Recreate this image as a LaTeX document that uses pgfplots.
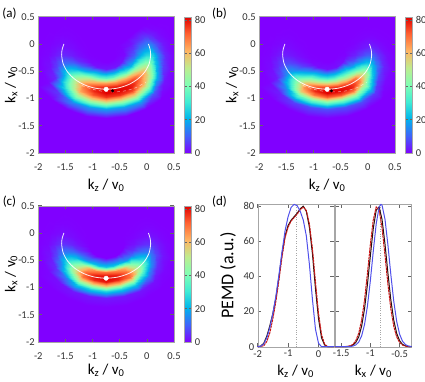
\documentclass[border=0pt]{standalone}
\usepackage{fontspec}
\setmainfont{Carlito}
\usepackage{pgfplots}
\pgfplotsset{compat=1.18}
\usepackage{pgfplotstable}

\definecolor{cmzero}{RGB}{128,0,255}
\definecolor{lblue}{RGB}{80,80,235}
\definecolor{lred}{RGB}{200,20,20}
\definecolor{lblack}{RGB}{40,15,15}

\pgfplotsset{
  colormap={gprain}{rgb255(0cm)=(128,0,255); rgb255(1cm)=(64,98,250); rgb255(2cm)=(0,180,236); rgb255(3cm)=(64,236,212); rgb255(4cm)=(128,255,180); rgb255(5cm)=(191,236,142); rgb255(6cm)=(255,180,98); rgb255(7cm)=(255,98,50); rgb255(8cm)=(225,0,0)},
  base/.style={scale only axis, tick align=inside,
    axis line style={black!35},
    every tick/.style={black!60, semithick}, major tick length=3.5pt,
    ticklabel style={font=\fontsize{10.5}{11}\selectfont, text=black!80},
    /pgf/number format/assume math mode=true,
    label style={font=\fontsize{15}{16}\selectfont},
  },
  hm/.style={base, width=135.7pt, height=136.3pt,
    xmin=-2, xmax=0.5, ymin=-2, ymax=0.5,
    xtick={-2,-1.5,...,0.5}, ytick={-2,-1.5,...,0.5},
    xticklabel shift=7pt,
    xlabel={k\textsubscript{z} / v\textsubscript{0}},
    ylabel={k\textsubscript{x} / v\textsubscript{0}},
    xlabel style={at={(axis description cs:0.5,-0.235)}, anchor=center},
    ylabel style={at={(axis description cs:-0.2,0.5)}, anchor=center},
    colormap name=gprain, point meta min=0, point meta max=82,
    colorbar,
    colorbar style={at={(parent axis.south east)}, anchor=south west, xshift=2pt,
      width=6.7pt, ytick={0,20,...,80}, tick align=inside,
      axis line style={black!35}, every tick/.style={black!60, semithick}, major tick length=2.5pt,
      yticklabel style={font=\fontsize{10.5}{11}\selectfont, text=black!80},
      /pgf/number format/assume math mode=true},
    axis background/.style={fill=cmzero},
    axis on top,
  },
  pe/.style={base, width=76pt, height=142.7pt, ymin=0, ymax=81.2, clip=false,
    ytick={0,20,...,80},
    xlabel style={at={(axis description cs:0.5,-0.175)}, anchor=center},
  },
  crv/.style={line width=1pt, line join=round, line cap=round},
}

\pgfplotstableread{
kz kx va vb vc
-0.863 -0.110 0 0 0
-0.889 -0.136 0 0 0
-0.905 -0.167 0 0 0
-0.910 -0.200 0 0 0
-0.905 -0.233 0 0 0
-0.889 -0.264 0 0 0
-0.863 -0.290 0 0 0
-0.830 -0.311 0 0 0
-0.791 -0.324 0 0 0
-0.750 -0.328 0 0 0
-0.709 -0.324 0 0 0
-0.670 -0.311 0 0 0
-0.637 -0.290 0 0 0
-0.611 -0.264 0 0 0
-0.595 -0.233 0 0 0
-0.590 -0.200 0 0 0
-0.595 -0.167 0 0 0
-0.611 -0.136 0 0 0
-0.637 -0.110 0 0 0
-0.976 -0.019 0 0 0
-1.027 -0.072 0 0 0
-1.059 -0.134 0.05 0 0
-1.070 -0.200 0.1 0.1 0
-1.059 -0.266 0.4 0.2 0
-1.027 -0.328 0.8 0.5 0
-0.976 -0.381 1.5 1.2 0
-0.910 -0.422 2.0 1.3 0
-0.833 -0.447 2.3 1.6 0
-0.750 -0.456 2.5 1.6 0
-0.667 -0.447 2.5 1.6 0
-0.590 -0.422 2.4 1.6 0
-0.524 -0.381 2.2 2.1 0
-0.473 -0.328 1.9 1.4 0
-0.441 -0.266 1.4 0.8 0
-0.430 -0.200 0.8 0.3 0
-0.441 -0.134 0.5 0.1 0
-0.473 -0.072 0.2 0 0
-0.524 -0.019 0 0 0
-1.118 0.094 0 0 0
-1.200 0.008 0.1 0.1 0.1
-1.252 -0.092 0.5 0.4 0.5
-1.270 -0.200 1.4 1.1 1.8
-1.252 -0.308 4.2 2.8 4.9
-1.200 -0.408 9.8 6.3 10.5
-1.118 -0.494 20.0 16.0 15.6
-1.010 -0.560 29.2 24.4 21.6
-0.885 -0.602 33.5 28.9 24.0
-0.750 -0.616 35.3 30.3 24.6
-0.615 -0.602 35.3 30.3 24.0
-0.490 -0.560 34.4 29.2 21.6
-0.382 -0.494 29.6 28.0 15.6
-0.300 -0.408 21.7 16.8 10.5
-0.248 -0.308 15.8 8.8 4.9
-0.230 -0.200 9.8 3.5 1.8
-0.248 -0.092 5.6 1.1 0.5
-0.300 0.008 2.1 0.2 0.1
-0.382 0.094 0 0 0
-1.203 0.162 0 0 0
-1.304 0.056 0.2 0.1 0.2
-1.368 -0.068 1.1 0.7 1.1
-1.390 -0.200 3.0 2.1 3.8
-1.368 -0.333 9.0 5.6 10.5
-1.304 -0.456 21.0 12.6 22.5
-1.203 -0.562 40.0 28.0 41.6
-1.070 -0.643 53.0 44.2 61.2
-0.916 -0.695 60.8 52.3 68.0
-0.750 -0.712 64.0 54.9 69.7
-0.584 -0.695 64.0 54.9 68.0
-0.430 -0.643 62.4 52.9 61.2
-0.297 -0.562 59.2 49.0 41.6
-0.196 -0.456 46.5 33.6 22.5
-0.132 -0.333 33.8 17.5 10.5
-0.110 -0.200 21.0 7.0 3.8
-0.132 -0.068 12.0 2.1 1.1
-0.196 0.056 4.5 0.4 0.2
-0.297 0.162 0 0 0
-1.270 0.216 0 0 0
-1.387 0.094 0.3 0.2 0.3
-1.461 -0.048 1.4 1.0 1.4
-1.486 -0.200 3.8 2.9 4.8
-1.461 -0.352 11.4 7.6 13.3
-1.387 -0.494 26.6 17.1 28.5
-1.270 -0.616 48.5 38.8 50.4
-1.118 -0.710 64.6 60.1 70.6
-0.941 -0.769 74.1 71.0 78.4
-0.750 -0.789 77.9 74.6 80.4
-0.559 -0.769 77.9 74.6 78.4
-0.382 -0.710 76.0 71.9 70.6
-0.230 -0.616 71.8 67.9 50.4
-0.113 -0.494 58.9 45.6 28.5
-0.039 -0.352 42.8 23.8 13.3
-0.014 -0.200 26.6 9.5 4.8
-0.039 -0.048 15.2 2.9 1.4
-0.113 0.094 5.7 0.5 0.3
-0.230 0.216 0 0 0
-1.316 0.253 0 0 0
-1.443 0.120 0.3 0.2 0.3
-1.523 -0.034 1.5 1.0 1.5
-1.550 -0.200 4.0 3.0 5.0
-1.523 -0.366 12.0 8.0 14.0
-1.443 -0.520 28.0 18.0 30.0
-1.316 -0.653 50.0 40.0 52.0
-1.150 -0.754 68.0 65.3 72.0
-0.957 -0.818 78.0 77.2 80.0
-0.750 -0.840 82.0 81.2 82.0
-0.543 -0.818 82.0 81.2 80.0
-0.350 -0.754 80.0 78.2 72.0
-0.184 -0.653 74.0 70.0 52.0
-0.057 -0.520 62.0 48.0 30.0
0.023 -0.366 45.0 25.0 14.0
0.050 -0.200 28.0 10.0 5.0
0.023 -0.034 16.0 3.0 1.5
-0.057 0.120 6.0 0.5 0.3
-0.184 0.253 0 0 0
-1.361 0.289 0 0 0
-1.498 0.146 0.3 0.2 0.3
-1.585 -0.021 1.4 0.9 1.4
-1.614 -0.200 3.6 2.7 4.5
-1.585 -0.379 10.8 7.2 12.6
-1.498 -0.546 25.2 16.2 27.0
-1.361 -0.689 47.5 38.0 48.4
-1.182 -0.799 68.0 66.0 69.8
-0.974 -0.868 78.0 78.0 77.6
-0.750 -0.891 82.0 82.0 79.5
-0.526 -0.868 82.0 82.0 77.6
-0.318 -0.799 80.0 79.0 69.8
-0.139 -0.689 70.3 66.5 48.4
-0.002 -0.546 55.8 43.2 27.0
0.085 -0.379 40.5 22.5 12.6
0.114 -0.200 25.2 9.0 4.5
0.085 -0.021 14.4 2.7 1.4
-0.002 0.146 5.4 0.5 0.3
-0.139 0.289 0 0 0
-1.429 0.343 0 0 0
-1.581 0.184 0.2 0.1 0.2
-1.677 -0.001 0.8 0.5 0.8
-1.710 -0.200 2.0 1.5 2.5
-1.677 -0.399 6.0 4.0 7.0
-1.581 -0.584 14.0 9.0 15.0
-1.429 -0.743 40.0 28.8 32.2
-1.230 -0.865 63.2 58.1 52.6
-0.999 -0.942 72.5 68.6 58.4
-0.750 -0.968 76.3 72.2 59.9
-0.502 -0.942 76.3 72.2 58.4
-0.270 -0.865 74.4 69.5 52.6
-0.071 -0.743 63.0 50.4 32.2
0.081 -0.584 45.0 24.0 15.0
0.177 -0.399 22.5 12.5 7.0
0.210 -0.200 14.0 5.0 2.5
0.177 -0.001 8.0 1.5 0.8
0.081 0.184 3.0 0.3 0.2
-0.071 0.343 0 0 0
-1.514 0.411 0 0 0
-1.685 0.232 0 0 0
-1.793 0.024 0.2 0.1 0.2
-1.830 -0.200 0.6 0.4 0.7
-1.793 -0.424 1.7 1.1 2.0
-1.685 -0.632 3.9 2.5 4.2
-1.514 -0.811 27.5 16.0 13.0
-1.290 -0.948 44.9 33.7 23.8
-1.030 -1.035 51.5 39.8 26.4
-0.750 -1.064 54.1 41.8 27.1
-0.470 -1.035 54.1 41.8 26.4
-0.210 -0.948 52.8 40.3 23.8
0.014 -0.811 40.7 28.0 13.0
0.185 -0.632 18.6 6.7 4.2
0.293 -0.424 6.3 3.5 2.0
0.330 -0.200 3.9 1.4 0.7
0.293 0.024 2.2 0.4 0.2
0.185 0.232 0.8 0.1 0
0.014 0.411 0 0 0
-1.627 0.500 0 0 0
-1.824 0.296 0 0 0
-1.948 0.057 0 0 0
-1.990 -0.200 0.1 0.1 0.1
-1.948 -0.457 0.2 0.2 0.3
-1.824 -0.696 0.6 0.4 0.6
-1.627 -0.901 6.0 3.2 1.5
-1.370 -1.059 15.0 6.6 2.2
-1.071 -1.158 17.2 7.8 2.4
-0.750 -1.192 18.0 8.2 2.5
-0.429 -1.158 18.0 8.2 2.4
-0.130 -1.059 17.6 7.9 2.2
0.127 -0.901 8.9 5.6 1.5
0.324 -0.696 2.0 1.0 0.6
0.448 -0.457 0.9 0.5 0.3
0.490 -0.200 0.6 0.2 0.1
0.448 0.057 0.3 0.1 0
0.324 0.296 0.1 0 0
0.127 0.500 0 0 0
-1.768 0.500 0 0 0
-1.997 0.376 0 0 0
-2.000 0.098 0 0 0
-2.000 -0.200 0 0 0
-2.000 -0.498 0 0 0
-1.997 -0.776 0 0 0
-1.768 -1.015 0 0 0
-1.470 -1.198 0 0 0
-1.123 -1.313 0 0 0
-0.750 -1.352 0 0 0
-0.377 -1.313 0 0 0
-0.030 -1.198 0 0 0
0.268 -1.015 0 0 0
0.497 -0.776 0 0 0
0.500 -0.498 0 0 0
0.500 -0.200 0 0 0
0.500 0.098 0 0 0
0.497 0.376 0 0 0
0.268 0.500 0 0 0
}\hmdata

\pgfplotstableread{
kz kx
-1.528 0.000
-1.558 -0.090
-1.570 -0.200
-1.542 -0.363
-1.460 -0.515
-1.330 -0.645
-1.160 -0.746
-0.962 -0.809
-0.750 -0.830
-0.538 -0.809
-0.340 -0.746
-0.170 -0.645
-0.040 -0.515
0.042 -0.363
0.070 -0.200
0.058 -0.090
0.028 0.000
}\arcdata

\pgfplotstableread{
kz kx
-1.20 -0.76
-1.00 -0.83
-0.80 -0.87
-0.60 -0.88
-0.40 -0.86
-0.20 -0.80
-0.02 -0.70
}\dashdata

\begin{document}
\begin{tikzpicture}
\path[use as bounding box] (0,0) rectangle (425pt,381pt);

% (a)
\begin{axis}[hm, at={(38.3pt,228pt)}, anchor=south west]
\addplot[surf, shader=interp, mesh/cols=19, point meta=\thisrow{va}] table[x=kz, y=kx] {\hmdata};
\addplot[white, line width=0.8pt, smooth, opacity=0.9] table[x=kz, y=kx] {\arcdata};
\addplot[white, line width=0.5pt, dashed, smooth, opacity=0.6] table[x=kz, y=kx] {\dashdata};
\addplot[only marks, mark=*, mark size=2.2pt, white] coordinates {(-0.75,-0.83)};
\addplot[only marks, mark=*, mark size=1.3pt, black] coordinates {(-0.63,-0.86)};
\end{axis}

% (b)
\begin{axis}[hm, at={(259.3pt,228pt)}, anchor=south west]
\addplot[surf, shader=interp, mesh/cols=19, point meta=\thisrow{vb}] table[x=kz, y=kx] {\hmdata};
\addplot[white, line width=0.8pt, smooth, opacity=0.9] table[x=kz, y=kx] {\arcdata};
\addplot[white, line width=0.5pt, dashed, smooth, opacity=0.6] table[x=kz, y=kx] {\dashdata};
\addplot[only marks, mark=*, mark size=2.2pt, white] coordinates {(-0.75,-0.83)};
\addplot[only marks, mark=*, mark size=1.3pt, black] coordinates {(-0.67,-0.86)};
\end{axis}

% (c)
\begin{axis}[hm, at={(38.3pt,39pt)}, anchor=south west,
  xlabel style={at={(axis description cs:0.5,-0.205)}, anchor=center}]
\addplot[surf, shader=interp, mesh/cols=19, point meta=\thisrow{vc}] table[x=kz, y=kx] {\hmdata};
\addplot[white, line width=0.8pt, smooth, opacity=0.9] table[x=kz, y=kx] {\arcdata};
\addplot[only marks, mark=*, mark size=2.2pt, white] coordinates {(-0.75,-0.83)};
\end{axis}

% (d) left
\begin{axis}[pe, at={(257.7pt,34.3pt)}, anchor=south west,
  xmin=-2, xmax=0.5, xtick={-2,-1,0},
  xlabel={k\textsubscript{z} / v\textsubscript{0}},
  ylabel={PEMD (a.u.)},
  ylabel style={at={(axis description cs:-0.39,0.5)}, anchor=center, font=\fontsize{18}{19}\selectfont}]
\addplot[black!35, dotted, thin] coordinates {(-0.75,0) (-0.75,81.2)};
\addplot[lblack, crv] coordinates {(-2.0,0) (-1.9,0.3) (-1.8,2) (-1.7,6) (-1.6,12) (-1.5,19) (-1.4,28) (-1.3,40) (-1.2,53) (-1.1,63) (-1.0,69) (-0.9,72) (-0.8,74) (-0.7,76) (-0.6,78.5) (-0.5,80) (-0.4,77) (-0.3,68) (-0.2,53) (-0.1,33) (0.0,16) (0.1,5) (0.2,1) (0.3,0) (0.5,0)};
\addplot[lred, crv, dash pattern=on 2pt off 1.2pt] coordinates {(-2.0,0) (-1.8,0.5) (-1.7,3) (-1.6,8) (-1.5,16) (-1.4,26) (-1.3,38) (-1.2,51) (-1.1,62) (-1.0,68) (-0.9,71.5) (-0.8,73.5) (-0.7,75.5) (-0.6,78) (-0.5,79.5) (-0.4,77.5) (-0.3,70) (-0.2,56) (-0.1,37) (0.0,19) (0.1,7) (0.2,1.5) (0.3,0) (0.5,0)};
\addplot[lblue, crv] coordinates {(-2.0,0) (-1.9,0.3) (-1.8,1.5) (-1.7,5) (-1.6,11) (-1.5,19) (-1.4,29) (-1.3,41) (-1.2,54) (-1.1,66) (-1.0,74) (-0.9,79.3) (-0.8,81.0) (-0.7,80.2) (-0.6,77) (-0.5,72) (-0.4,63) (-0.3,47) (-0.2,27) (-0.1,10) (0.0,2) (0.1,0) (0.5,0)};
\end{axis}

% (d) right
\begin{axis}[pe, at={(335.3pt,34.3pt)}, anchor=south west,
  xmin=-1.6, xmax=-0.3, xtick={-1.5,-1,-0.5}, yticklabels={},
  xlabel={k\textsubscript{x} / v\textsubscript{0}}]
\addplot[black!35, dotted, thin] coordinates {(-0.83,0) (-0.83,81.2)};
\addplot[lblack, crv] coordinates {(-1.6,0) (-1.45,0) (-1.4,0.1) (-1.35,0.3) (-1.3,0.9) (-1.25,2.4) (-1.2,5.5) (-1.15,11.6) (-1.1,21.5) (-1.05,35.5) (-1.0,51.9) (-0.95,67.4) (-0.9,77.7) (-0.85,79.6) (-0.8,72.3) (-0.75,58.4) (-0.7,41.9) (-0.65,26.6) (-0.6,15.1) (-0.55,7.6) (-0.5,3.4) (-0.45,1.3) (-0.4,0.5) (-0.35,0.15) (-0.3,0)};
\addplot[lred, crv, dash pattern=on 2pt off 1.2pt] coordinates {(-1.6,0) (-1.5,0) (-1.4,0.15) (-1.35,0.5) (-1.3,1.3) (-1.25,3.4) (-1.2,7.6) (-1.15,15.1) (-1.1,26.6) (-1.05,41.9) (-1.0,58.4) (-0.95,72.3) (-0.9,79.6) (-0.85,77.7) (-0.8,67.4) (-0.75,51.9) (-0.7,35.5) (-0.65,21.5) (-0.6,11.6) (-0.55,5.5) (-0.5,2.4) (-0.45,0.9) (-0.4,0.3) (-0.35,0.1) (-0.3,0)};
\addplot[lblue, crv] coordinates {(-1.6,0) (-1.45,0) (-1.4,0.03) (-1.35,0.1) (-1.3,0.34) (-1.25,1.0) (-1.2,2.6) (-1.15,6.1) (-1.1,12.6) (-1.05,23.2) (-1.0,37.7) (-0.95,54.5) (-0.9,70.0) (-0.85,79.5) (-0.82,81.0) (-0.8,80.5) (-0.75,72.5) (-0.7,57.9) (-0.65,41.0) (-0.6,25.8) (-0.55,14.4) (-0.5,7.1) (-0.45,3.1) (-0.4,1.2) (-0.35,0.4) (-0.3,0.1)};
\end{axis}

\node[font=\fontsize{13}{14}\selectfont] at (9.5pt,367pt) {(a)};
\node[font=\fontsize{13}{14}\selectfont] at (219.5pt,367pt) {(b)};
\node[font=\fontsize{13}{14}\selectfont] at (9.5pt,179pt) {(c)};
\node[font=\fontsize{13}{14}\selectfont] at (219.5pt,179pt) {(d)};
\end{tikzpicture}
\end{document}
